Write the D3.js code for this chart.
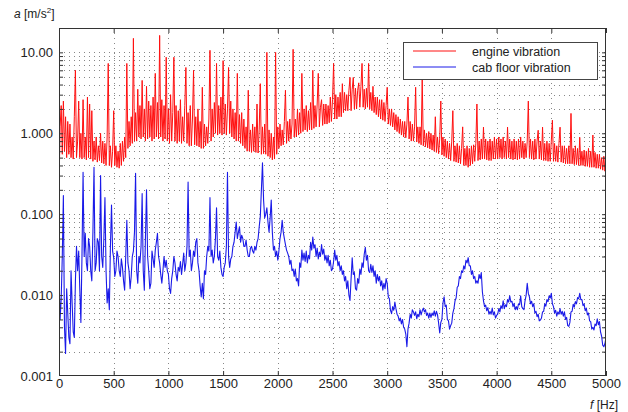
<!DOCTYPE html>
<html>
<head>
<meta charset="utf-8">
<script src="https://cdn.jsdelivr.net/npm/d3@7"></script>
<style>
  body { margin: 0; background: #fff; }
  svg { display: block; font-family: "Liberation Sans", Arial, sans-serif; }
</style>
</head>
<body>
<svg id="chart" width="628" height="412"></svg>
<script>
// ---- data ----
const freqStep = 10, freqMax = 5000;   // Hz sampling grid
const seriesNames = ["engine vibration", "cab floor vibration"];
const xTicks = [0, 500, 1000, 1500, 2000, 2500, 3000, 3500, 4000, 4500, 5000];
const yTicks = [0.001, 0.01, 0.1, 1, 10];
const yTickLabels = ["0.001", "0.010", "0.100", "1.000", "10.00"];

// engine vibration, 10 Hz steps (one row = 100 Hz)
const engine = [
  0.2, 1.2, 2.2, 0.55, 2.5, 0.6, 1.6, 0.5, 1.4, 0.55,
  1.3, 0.5, 0.9, 0.48, 1.6, 6.0, 0.5, 0.8, 2.5, 0.5,
  1.0, 0.48, 2.6, 0.5, 0.9, 0.47, 2.8, 0.5, 2.3, 0.48,
  1.9, 0.45, 0.8, 0.47, 0.9, 0.44, 0.7, 0.46, 1.0, 0.43,
  0.8, 0.42, 0.75, 0.4, 0.9, 7.3, 0.4, 0.7, 0.38, 0.6,
  1.9, 0.4, 0.7, 0.38, 0.6, 0.37, 0.75, 0.4, 0.8, 0.45,
  0.9, 0.5, 7.3, 0.65, 1.4, 0.7, 1.6, 0.75, 14.9, 0.8,
  1.8, 0.8, 3.5, 0.9, 2.2, 0.85, 4.5, 0.9, 2.0, 0.8,
  3.8, 0.85, 2.5, 0.9, 2.2, 0.8, 2.8, 0.85, 5.5, 0.9,
  2.4, 0.85, 16.2, 0.9, 2.6, 0.8, 2.2, 0.85, 8.7, 0.8,
  2.0, 0.75, 3.0, 0.8, 1.8, 8.7, 0.8, 2.2, 0.75, 1.9,
  0.8, 2.6, 0.75, 1.6, 0.8, 2.2, 6.5, 0.75, 1.8, 0.7,
  2.2, 0.7, 1.5, 6.0, 0.72, 1.6, 0.7, 2.0, 0.68, 1.4,
  0.65, 3.7, 0.65, 1.3, 0.7, 1.2, 0.75, 1.5, 10.6, 0.8,
  2.0, 0.9, 2.4, 1.0, 7.3, 0.95, 2.2, 1.0, 2.8, 0.95,
  7.9, 1.0, 2.3, 0.95, 2.0, 6.5, 1.0, 2.5, 0.9, 2.0,
  0.85, 1.8, 0.8, 5.5, 0.8, 1.7, 0.75, 1.8, 0.7, 1.5,
  0.65, 1.2, 0.6, 3.4, 0.6, 1.1, 0.58, 1.3, 0.6, 1.2,
  0.58, 2.3, 0.57, 1.1, 4.1, 0.55, 1.2, 0.56, 1.3, 0.55,
  10.0, 0.52, 1.1, 0.5, 1.0, 0.47, 0.9, 0.48, 10.0, 0.55,
  1.2, 0.65, 1.3, 0.7, 1.1, 0.72, 1.4, 3.4, 0.75, 1.4,
  0.8, 1.5, 0.85, 1.3, 10.9, 0.9, 1.5, 0.9, 2.0, 0.95,
  1.8, 1.0, 5.5, 1.05, 2.0, 1.1, 2.2, 1.05, 1.9, 1.1,
  2.4, 1.1, 6.0, 1.15, 2.2, 1.2, 2.3, 5.5, 1.2, 2.1,
  2.6, 1.25, 2.3, 1.3, 2.3, 1.3, 2.2, 1.35, 2.8, 1.4,
  2.6, 7.3, 1.5, 3.0, 1.5, 2.8, 1.6, 3.2, 1.6, 4.1,
  1.8, 3.2, 1.9, 3.0, 1.9, 3.4, 4.9, 1.9, 3.5, 4.9,
  2.0, 3.6, 2.0, 3.4, 4.2, 2.1, 3.8, 7.3, 2.1, 3.5,
  2.0, 3.6, 2.1, 7.3, 2.0, 3.2, 1.9, 3.8, 1.8, 2.8,
  1.7, 2.8, 1.6, 2.6, 1.5, 2.6, 1.45, 2.4, 1.4, 2.2,
  3.7, 1.3, 2.0, 1.25, 2.0, 1.2, 1.8, 1.1, 1.7, 1.05,
  1.6, 1.0, 1.5, 0.95, 1.4, 0.9, 1.4, 0.88, 1.3, 2.8,
  0.85, 1.4, 0.8, 1.3, 0.8, 1.2, 3.7, 0.78, 1.2, 0.75,
  1.2, 0.72, 4.7, 0.7, 1.1, 0.68, 1.0, 0.66, 1.05, 0.64,
  1.0, 0.62, 0.95, 0.6, 1.6, 0.58, 0.9, 0.56, 0.85, 2.5,
  0.54, 0.9, 0.52, 0.85, 0.5, 0.8, 0.48, 0.75, 0.46, 0.8,
  1.9, 0.45, 0.7, 0.44, 0.75, 0.43, 0.7, 0.42, 0.65, 1.2,
  0.4, 0.65, 0.4, 0.7, 0.38, 0.65, 0.4, 0.7, 0.42, 0.72,
  0.45, 0.75, 2.3, 0.46, 0.8, 0.47, 0.85, 0.48, 1.19, 0.48,
  0.85, 0.47, 0.8, 0.46, 0.85, 0.46, 0.8, 0.48, 0.9, 0.48,
  0.85, 0.48, 0.9, 0.5, 0.85, 0.48, 0.9, 0.5, 0.8, 0.48,
  1.19, 0.5, 0.85, 0.48, 0.8, 0.47, 0.85, 0.48, 0.8, 0.47,
  0.85, 0.48, 0.9, 0.5, 0.8, 0.48, 0.75, 0.5, 0.8, 2.5,
  0.5, 0.85, 0.48, 0.8, 0.47, 0.85, 0.48, 0.8, 1.09, 0.48,
  0.8, 0.47, 1.19, 0.46, 0.75, 0.46, 0.8, 0.45, 0.75, 0.45,
  0.8, 1.45, 0.45, 0.75, 0.45, 0.7, 0.44, 0.75, 1.19, 0.44,
  0.7, 0.43, 0.7, 0.42, 0.65, 0.42, 0.7, 0.42, 1.76, 0.42,
  0.65, 0.41, 0.7, 0.41, 0.65, 0.4, 0.89, 0.4, 0.6, 0.4,
  0.62, 0.39, 0.6, 0.39, 0.65, 0.38, 0.6, 0.38, 0.95, 0.38,
  0.58, 0.37, 0.55, 0.37, 0.55, 0.36, 0.5, 0.35, 0.52, 0.34,
  0.45
];

// cab floor vibration, 10 Hz steps (one row = 100 Hz)
const cabFloor = [
  0.02, 0.005, 0.009, 0.03, 0.17, 0.004, 0.0019, 0.012, 0.006, 0.003,
  0.0025, 0.02, 0.008, 0.0035, 0.003, 0.015, 0.04, 0.02, 0.035, 0.012,
  0.0046, 0.03, 0.33, 0.03, 0.058, 0.025, 0.02, 0.05, 0.04, 0.02,
  0.015, 0.06, 0.38, 0.02, 0.025, 0.05, 0.045, 0.02, 0.30, 0.03,
  0.022, 0.05, 0.16, 0.02, 0.008, 0.012, 0.0066, 0.04, 0.13, 0.035,
  0.029, 0.017, 0.02, 0.035, 0.03, 0.02, 0.017, 0.028, 0.022, 0.015,
  0.0115, 0.03, 0.084, 0.025, 0.02, 0.012, 0.017, 0.03, 0.035, 0.06,
  0.32, 0.02, 0.014, 0.03, 0.025, 0.04, 0.18, 0.02, 0.0115, 0.05,
  0.20, 0.03, 0.02, 0.012, 0.014, 0.035, 0.028, 0.022, 0.036, 0.045,
  0.058, 0.03, 0.025, 0.018, 0.014, 0.02, 0.03, 0.022, 0.027, 0.02,
  0.018, 0.012, 0.0105, 0.016, 0.02, 0.03, 0.025, 0.018, 0.015, 0.022,
  0.02, 0.026, 0.018, 0.024, 0.033, 0.02, 0.025, 0.04, 0.25, 0.03,
  0.036, 0.02, 0.025, 0.035, 0.03, 0.045, 0.05, 0.025, 0.02, 0.013,
  0.0095, 0.014, 0.009, 0.02, 0.018, 0.03, 0.04, 0.035, 0.16, 0.03,
  0.036, 0.025, 0.03, 0.05, 0.12, 0.03, 0.027, 0.035, 0.022, 0.018,
  0.017, 0.022, 0.025, 0.04, 0.33, 0.03, 0.022, 0.028, 0.03, 0.04,
  0.045, 0.06, 0.08, 0.05, 0.06, 0.07, 0.045, 0.055, 0.05, 0.04,
  0.04, 0.048, 0.036, 0.03, 0.03, 0.038, 0.04, 0.035, 0.033, 0.04,
  0.036, 0.045, 0.05, 0.07, 0.093, 0.2, 0.43, 0.15, 0.09, 0.1,
  0.12, 0.08, 0.06, 0.09, 0.15, 0.06, 0.036, 0.04, 0.03, 0.035,
  0.027, 0.035, 0.05, 0.06, 0.084, 0.06, 0.05, 0.042, 0.036, 0.033,
  0.03, 0.024, 0.027, 0.02, 0.021, 0.017, 0.021, 0.015, 0.016, 0.013,
  0.025, 0.022, 0.036, 0.027, 0.033, 0.026, 0.035, 0.025, 0.031, 0.028,
  0.045, 0.036, 0.052, 0.038, 0.042, 0.03, 0.038, 0.028, 0.034, 0.03,
  0.042, 0.032, 0.037, 0.027, 0.031, 0.025, 0.031, 0.023, 0.027, 0.02,
  0.021, 0.026, 0.036, 0.027, 0.031, 0.023, 0.026, 0.02, 0.023, 0.018,
  0.02, 0.015, 0.017, 0.012, 0.015, 0.01, 0.0086, 0.016, 0.029, 0.018,
  0.019, 0.012, 0.0115, 0.016, 0.014, 0.021, 0.018, 0.025, 0.022, 0.032,
  0.039, 0.027, 0.031, 0.02, 0.019, 0.024, 0.019, 0.023, 0.017, 0.02,
  0.014, 0.018, 0.015, 0.017, 0.013, 0.015, 0.0115, 0.014, 0.012, 0.016,
  0.014, 0.0095, 0.009, 0.0065, 0.0059, 0.0072, 0.0065, 0.0082, 0.0068, 0.0058,
  0.0055, 0.0048, 0.0052, 0.0044, 0.005, 0.004, 0.0038, 0.0033, 0.0023, 0.0038,
  0.0045, 0.0058, 0.0052, 0.0066, 0.0062, 0.0056, 0.0062, 0.0051, 0.0058, 0.0054,
  0.0066, 0.0057, 0.0064, 0.0069, 0.0062, 0.0066, 0.0056, 0.006, 0.0052, 0.006,
  0.0053, 0.006, 0.0056, 0.0064, 0.0055, 0.0063, 0.0057, 0.0045, 0.0034, 0.0046,
  0.005, 0.008, 0.0095, 0.0072, 0.0075, 0.005, 0.0048, 0.0038, 0.0042, 0.0045,
  0.006, 0.0068, 0.0085, 0.0092, 0.0125, 0.013, 0.017, 0.016, 0.02, 0.019,
  0.023, 0.021, 0.027, 0.025, 0.029, 0.023, 0.023, 0.018, 0.02, 0.016,
  0.017, 0.014, 0.015, 0.014, 0.018, 0.016, 0.019, 0.011, 0.0085, 0.0072,
  0.0075, 0.0064, 0.007, 0.0058, 0.0063, 0.0058, 0.0069, 0.0057, 0.0062, 0.0052,
  0.0056, 0.0058, 0.0068, 0.0062, 0.0074, 0.0068, 0.0085, 0.0068, 0.0076, 0.0072,
  0.0088, 0.0082, 0.0098, 0.0082, 0.0084, 0.0072, 0.0079, 0.0066, 0.0072, 0.0066,
  0.0078, 0.0076, 0.0098, 0.0072, 0.0068, 0.0066, 0.0085, 0.01, 0.014, 0.0105,
  0.0095, 0.0078, 0.0084, 0.0072, 0.0078, 0.006, 0.0063, 0.0054, 0.0058, 0.0048,
  0.0049, 0.0052, 0.0062, 0.0063, 0.0078, 0.0073, 0.0088, 0.0083, 0.0098, 0.0092,
  0.0105, 0.0078, 0.0072, 0.006, 0.0065, 0.0055, 0.0062, 0.0058, 0.0068, 0.0058,
  0.0063, 0.0055, 0.0062, 0.005, 0.0053, 0.0042, 0.0041, 0.0046, 0.0062, 0.0063,
  0.0077, 0.0071, 0.0083, 0.0078, 0.0093, 0.009, 0.0105, 0.0088, 0.0088, 0.0074,
  0.0078, 0.0064, 0.0069, 0.0057, 0.006, 0.0048, 0.0047, 0.0038, 0.004, 0.0037,
  0.0044, 0.0042, 0.0051, 0.0043, 0.0047, 0.0035, 0.0031, 0.0024, 0.0023, 0.0025,
  0.003
];

// ---- drawing ----
const svg = d3.select("#chart");
const margin = {left: 59, right: 22, top: 28, bottom: 36};
const W = 628, H = 412;
const iw = W - margin.left - margin.right;
const ih = H - margin.top - margin.bottom;

const x = d3.scaleLinear().domain([0, freqMax]).range([margin.left, margin.left + iw]);
const y = d3.scaleLog().domain([0.001, 20]).range([margin.top + ih, margin.top]);

const g = svg.append("g");

// grid (dotted)
const minorVals = [];
[0.001, 0.01, 0.1, 1, 10].forEach(d => {
  for (let k = 1; k <= 9; k++) { const v = d * k; if (v > 0.001 && v <= 20) minorVals.push(v); }
});
g.append("g").selectAll("line").data(minorVals).join("line")
  .attr("x1", margin.left).attr("x2", margin.left + iw)
  .attr("y1", d => Math.round(y(d)) + 0.5).attr("y2", d => Math.round(y(d)) + 0.5)
  .attr("stroke", "#888").attr("stroke-width", 1).attr("stroke-dasharray", "1,4");
g.append("g").selectAll("line").data(xTicks.slice(1, -1)).join("line")
  .attr("x1", d => Math.round(x(d)) + 0.5).attr("x2", d => Math.round(x(d)) + 0.5)
  .attr("y1", margin.top).attr("y2", margin.top + ih)
  .attr("stroke", "#888").attr("stroke-width", 1).attr("stroke-dasharray", "1,4");

// lines
svg.append("clipPath").attr("id", "clip").append("rect")
  .attr("x", margin.left).attr("y", margin.top).attr("width", iw).attr("height", ih);
const line = d3.line().x((d, i) => x(i * freqStep)).y(d => y(d));
g.append("path").datum(engine).attr("d", line).attr("clip-path", "url(#clip)")
  .attr("fill", "none").attr("stroke", "#ff1010").attr("stroke-width", 1).attr("stroke-linejoin", "round");
g.append("path").datum(cabFloor).attr("d", line).attr("clip-path", "url(#clip)")
  .attr("fill", "none").attr("stroke", "#1a1ae8").attr("stroke-width", 1.1).attr("stroke-linejoin", "round");

// axes
const axisColor = "#333";
const xAxisB = d3.axisBottom(x).tickValues(xTicks).tickSize(-5).tickPadding(3).tickFormat(d3.format("d"));
g.append("g").attr("transform", `translate(0,${margin.top + ih})`).call(xAxisB);
const xAxisT = d3.axisTop(x).tickValues(xTicks).tickSize(-5).tickFormat("");
g.append("g").attr("transform", `translate(0,${margin.top})`).call(xAxisT);
const yAxisL = d3.axisLeft(y).tickValues(yTicks).tickSize(0).tickPadding(6)
  .tickFormat(d => yTickLabels[yTicks.indexOf(d)]);
g.append("g").attr("transform", `translate(${margin.left},0)`).call(yAxisL);
const yAxisLm = d3.axisLeft(y).tickValues(minorVals).tickSize(-4).tickFormat("");
g.append("g").attr("transform", `translate(${margin.left},0)`).call(yAxisLm);
const yAxisR = d3.axisRight(y).tickValues(minorVals).tickSize(-4).tickFormat("");
g.append("g").attr("transform", `translate(${margin.left + iw},0)`).call(yAxisR);

g.selectAll(".domain").remove();
g.selectAll(".tick line").attr("stroke", axisColor);
g.selectAll(".tick text").attr("fill", "#222").style("font-size", "13px")
  .style("font-family", "'Liberation Sans', Arial, sans-serif");

// frame
g.append("rect").attr("x", margin.left + 0.5).attr("y", margin.top + 0.5)
  .attr("width", iw - 1).attr("height", ih - 1)
  .attr("fill", "none").attr("stroke", axisColor).attr("stroke-width", 1);

// axis titles
const ya = svg.append("text").attr("x", 14).attr("y", 18).attr("fill", "#222").style("font-size", "12px");
ya.append("tspan").style("font-style", "italic").text("a");
ya.append("tspan").text(" [m/s");
ya.append("tspan").attr("dy", -5).style("font-size", "8px").text("2");
ya.append("tspan").attr("dy", 5).text("]");

const xa = svg.append("text").attr("x", 590).attr("y", 409).attr("fill", "#222").style("font-size", "12px");
xa.append("tspan").style("font-style", "italic").text("f");
xa.append("tspan").text(" [Hz]");

// legend
const lg = svg.append("g");
lg.append("rect").attr("x", 403.5).attr("y", 42.5).attr("width", 194).attr("height", 37)
  .attr("fill", "#fff").attr("stroke", "#444").attr("stroke-width", 1);
const legColors = ["#ff1010", "#1a1ae8"];
seriesNames.forEach((name, i) => {
  const yy = 51 + i * 16;
  lg.append("line").attr("x1", 413).attr("x2", 456).attr("y1", yy).attr("y2", yy)
    .attr("stroke", legColors[i]).attr("stroke-width", 1);
  lg.append("text").attr("x", 472).attr("y", yy + 4.5).attr("fill", "#222")
    .style("font-size", "12.5px").text(name);
});
</script>
</body>
</html>
